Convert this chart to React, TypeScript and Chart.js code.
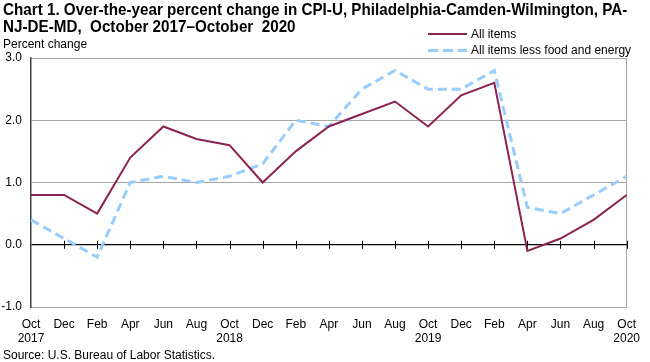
import React, { useEffect, useRef } from 'react';
import { Chart, registerables } from 'chart.js';

Chart.register(...registerables);

const months = ['Oct', 'Dec', 'Feb', 'Apr', 'Jun', 'Aug', 'Oct', 'Dec', 'Feb', 'Apr', 'Jun', 'Aug', 'Oct', 'Dec', 'Feb', 'Apr', 'Jun', 'Aug', 'Oct'];
const years = ['2017', '', '', '', '', '', '2018', '', '', '', '', '', '2019', '', '', '', '', '', '2020'];
const allItems = [0.8, 0.8, 0.5, 1.4, 1.9, 1.7, 1.6, 1.0, 1.5, 1.9, 2.1, 2.3, 1.9, 2.4, 2.6, -0.1, 0.1, 0.4, 0.8];
const lessFoodEnergy = [0.4, 0.1, -0.2, 1.0, 1.1, 1.0, 1.1, 1.3, 2.0, 1.9, 2.5, 2.8, 2.5, 2.5, 2.8, 0.6, 0.5, 0.8, 1.1];
const seriesNames = ['All items', 'All items less food and energy'];
const yMin = -1;
const yMax = 3;

const PURPLE = '#8b2452';
const BLUE = '#99ccff';
const FONT = "Arial, 'Liberation Sans', sans-serif";

const zeroTicks = {
  id: 'zeroTicks',
  beforeDatasetsDraw(chart: any) {
    const x = chart.scales.x;
    const y = chart.scales.y;
    const y0 = y.getPixelForValue(0);
    const ctx = chart.ctx;
    ctx.save();
    ctx.strokeStyle = '#000';
    ctx.lineWidth = 1;
    for (let i = 1; i < x.ticks.length; i++) {
      const px = Math.round(x.getPixelForTick(i)) + 0.5;
      ctx.beginPath();
      ctx.moveTo(px, y0 - 4);
      ctx.lineTo(px, y0 + 4);
      ctx.stroke();
    }
    ctx.restore();
  },
};

export default function App() {
  const ref = useRef<HTMLCanvasElement>(null);
  useEffect(() => {
    const labels = months.map((m, i) => (years[i] ? [m, years[i]] : m));
    const chart = new Chart(ref.current as HTMLCanvasElement, {
      type: 'line',
      data: {
        labels,
        datasets: [
          {
            label: seriesNames[0],
            data: allItems,
            borderColor: PURPLE,
            borderWidth: 2,
            pointRadius: 0,
            tension: 0,
          },
          {
            label: seriesNames[1],
            data: lessFoodEnergy,
            borderColor: BLUE,
            borderWidth: 3,
            borderDash: [9, 5],
            pointRadius: 0,
            tension: 0,
          },
        ],
      },
      options: {
        animation: false,
        responsive: false,
        devicePixelRatio: 1,
        layout: { padding: { top: 58, right: 13, left: 0, bottom: 0 } },
        plugins: { legend: { display: false }, title: { display: false }, tooltip: { enabled: false } },
        scales: {
          x: {
            offset: false,
            afterFit: (s: any) => { s.height = 55; },
            grid: {
              drawTicks: false,
              color: (c: any) => (c.index === months.length - 1 ? '#a6a6a6' : 'rgba(0,0,0,0)'),
            },
            border: { color: '#a6a6a6', width: 1 },
            ticks: {
              autoSkip: false,
              maxRotation: 0,
              padding: 10,
              color: '#000',
              font: { family: FONT, size: 12 },
            },
          },
          y: {
            min: yMin,
            max: yMax,
            afterFit: (s: any) => { s.width = 31; },
            grid: {
              drawTicks: false,
              color: (c: any) => (c.tick.value === 0 ? '#000' : c.tick.value === yMin ? 'rgba(0,0,0,0)' : '#a6a6a6'),
              lineWidth: (c: any) => (c.tick.value === 0 ? 1.3 : 1),
            },
            border: { color: '#404040', width: 1.5 },
            ticks: {
              stepSize: 1,
              padding: 9,
              color: '#000',
              font: { family: FONT, size: 12 },
              callback: (v: any) => Number(v).toFixed(1),
            },
          },
        },
      },
      plugins: [zeroTicks],
    });
    return () => chart.destroy();
  }, []);

  const textBase: React.CSSProperties = { position: 'absolute', fontFamily: FONT, color: '#000', whiteSpace: 'nowrap', lineHeight: 1 };
  return (
    <div style={{ position: 'fixed', left: 0, top: 0, width: 650, height: 362, background: '#fff' }}>
      <canvas ref={ref} width={650} height={362} style={{ position: 'absolute', left: 0, top: 0 }} />
      <div
        style={{
          ...textBase,
          left: 3,
          top: 1,
          fontSize: 17,
          fontWeight: 'bold',
          lineHeight: '17px',
          transform: 'scaleX(0.895)',
          transformOrigin: 'left top',
        }}
      >
        Chart 1. Over-the-year percent change in CPI-U, Philadelphia-Camden-Wilmington, PA-
        <br />
        NJ-DE-MD,&nbsp; October 2017–October&nbsp; 2020
      </div>
      <div style={{ ...textBase, left: 3, top: 38, fontSize: 12 }}>Percent change</div>
      <div style={{ position: 'absolute', left: 428, top: 33, width: 39, height: 0, borderTop: `2px solid ${PURPLE}` }} />
      <div style={{ ...textBase, left: 471, top: 28, fontSize: 12 }}>{seriesNames[0]}</div>
      <div
        style={{
          position: 'absolute',
          left: 428,
          top: 49,
          width: 39,
          height: 3,
          backgroundImage: `repeating-linear-gradient(to right, ${BLUE} 0 10px, transparent 10px 15px)`,
        }}
      />
      <div style={{ ...textBase, left: 471, top: 44, fontSize: 12 }}>{seriesNames[1]}</div>
      <div style={{ ...textBase, left: 3, top: 349, fontSize: 12 }}>Source: U.S. Bureau of Labor Statistics.</div>
    </div>
  );
}
